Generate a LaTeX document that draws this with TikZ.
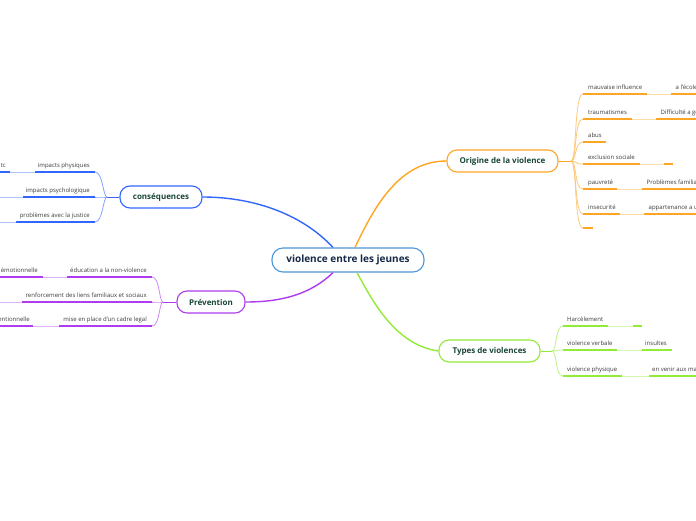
\documentclass[tikz,border=0pt]{standalone}
\usepackage{fontspec}
\setmainfont{Open Sans}
\usepackage{xcolor}
\usetikzlibrary{positioning}
\definecolor{rootblue}{RGB}{77,150,215}
\definecolor{inkblue}{RGB}{22,40,70}
\definecolor{inkgreen}{RGB}{25,70,55}
\definecolor{leafgray}{RGB}{60,60,60}
\definecolor{origorange}{RGB}{255,165,36}
\definecolor{consblue}{RGB}{51,102,255}
\definecolor{prevpurple}{RGB}{175,60,240}
\definecolor{typesgreen}{RGB}{145,235,55}
\tikzset{
  rootbox/.style={draw=rootblue, line width=1.1pt, fill=white, rounded corners=11pt,
    minimum height=24pt, minimum width=152pt, font=\fontsize{10}{12}\selectfont\bfseries, text=inkblue},
  branchbox/.style={draw=#1, line width=1.1pt, fill=white, rounded corners=10pt,
    minimum height=22pt, inner xsep=12pt, font=\fontsize{8}{9}\selectfont\bfseries, text=inkgreen},
  leaf/.style={inner sep=0pt, font=\fontsize{6}{7}\selectfont, text=leafgray},
  subline/.style={draw=#1, line width=2pt},
  linkline/.style={draw=#1!40, line width=0.9pt},
  fanline/.style={draw=#1!60, line width=0.8pt},
  stemline/.style={draw=#1, line width=1pt},
  mainline/.style={draw=#1, line width=1.4pt},
}
\begin{document}
\begin{tikzpicture}[x=1pt, y=-1pt]
  \clip (0,0) rectangle (696,520);
  \fill[white] (0,0) rectangle (696,520);

  %% Central topic and main branches
  \node[rootbox] (root) at (348,260) {violence entre les jeunes};
  \node[branchbox=origorange, minimum width=111pt] (origine) at (502.5,161) {Origine de la violence};
  \node[branchbox=typesgreen, minimum width=101pt] (typesv) at (489.5,351) {Types de violences};
  \node[branchbox=consblue, minimum width=82pt] (conseq) at (161,197) {conséquences};
  \node[branchbox=prevpurple, minimum width=68pt] (preven) at (211,302) {Prévention};

  \draw[mainline=consblue] ([xshift=-15pt]root.north) .. controls (300,212) and (250,197) .. (conseq.east);
  \draw[mainline=origorange] ([xshift=7pt]root.north) .. controls (375,205) and (400,161) .. (origine.west);
  \draw[mainline=typesgreen] ([xshift=9pt]root.south) .. controls (372,300) and (395,345) .. (typesv.west);
  \draw[mainline=prevpurple] ([xshift=-15pt]root.south) .. controls (310,295) and (280,302) .. (preven.east);

  %% Origine de la violence
  \coordinate (oj) at (571,161);
  \draw[stemline=origorange] (origine.east) -- (oj);
  \foreach \n/\y/\e/\t in {1/94/647/mauvaise influence, 2/119/632/traumatismes, 3/142/606/abus,
                           4/164/640/exclusion sociale, 5/189/617/pauvreté, 6/214/620/insecurité, 7/228/593/{}}{
    \coordinate (o\n) at (583,\y);
    \draw[fanline=origorange] (oj) .. controls +(6,0) and +(-9,0) .. (o\n);
    \draw[subline=origorange] (o\n) -- (\e,\y);
    \node[leaf, anchor=base west] (ot\n) at (588,\y-4.5) {\t};
  }
  \foreach \n/\y/\a/\b/\c/\t in {1/94/647/671/700/a l'école, 2/119/632/656/700/Difficulté a ge,
                                 4/164/640/664/673/{}, 5/189/617/642/700/Problèmes familia,
                                 6/214/620/644/700/appartenance a u}{
    \draw[linkline=origorange] (\a,\y) -- (\b,\y);
    \draw[subline=origorange] (\b,\y) -- (\c,\y);
    \node[leaf, anchor=base west] (oo\n) at (\b+4.5,\y-4.5) {\t};
  }

  %% Types de violences
  \coordinate (tj) at (552,351);
  \draw[stemline=typesgreen] (typesv.east) -- (tj);
  \foreach \n/\y/\e/\t in {1/326/608/Harcèlement, 2/350/617/violence verbale, 3/376/622/violence physique}{
    \coordinate (t\n) at (563,\y);
    \draw[fanline=typesgreen] (tj) .. controls +(5,0) and +(-8,0) .. (t\n);
    \draw[subline=typesgreen] (t\n) -- (\e,\y);
    \node[leaf, anchor=base west] (tt\n) at (567,\y-4.5) {\t};
  }
  \foreach \n/\y/\a/\b/\c/\t in {1/326/608/633/642/{}, 2/350/617/642/672/insultes,
                                 3/376/622/649/700/en venir aux mai}{
    \draw[linkline=typesgreen] (\a,\y) -- (\b,\y);
    \draw[subline=typesgreen] (\b,\y) -- (\c,\y);
    \node[leaf, anchor=base west] (tu\n) at (\b+3,\y-4.5) {\t};
  }

  %% conséquences
  \coordinate (cj) at (107,197);
  \draw[stemline=consblue] (conseq.west) -- (cj);
  \foreach \n/\y/\e/\t in {1/172/35/impacts physiques, 2/197/23/impacts psychologique,
                           3/222/16/problèmes avec la justice}{
    \coordinate (c\n) at (95,\y);
    \draw[fanline=consblue] (cj) .. controls +(-4,0) and +(8,0) .. (c\n);
    \draw[subline=consblue] (c\n) -- (\e,\y);
    \node[leaf, anchor=base east] (ct\n) at (90,\y-4.5) {\t};
    \draw[linkline=consblue] (\e,\y) -- (-5,\y);
  }
  \draw[subline=consblue] (10,172) -- (-5,172);
  \node[leaf, anchor=base east] (cc1) at (6,172-4.5) {tc};

  %% Prévention
  \coordinate (pj) at (163,302);
  \draw[stemline=prevpurple] (preven.west) -- (pj);
  \foreach \n/\y/\e/\t in {1/277/67/éducation a la non-violence, 2/302/22/renforcement des liens familiaux et sociaux,
                           3/326/59/mise en place d'un cadre legal}{
    \coordinate (p\n) at (152,\y);
    \draw[fanline=prevpurple] (pj) .. controls +(-4,0) and +(8,0) .. (p\n);
    \draw[subline=prevpurple] (p\n) -- (\e,\y);
    \node[leaf, anchor=base east] (pt\n) at (147,\y-4.5) {\t};
    \draw[linkline=prevpurple] (\e,\y) -- (-5,\y);
  }
  \draw[subline=prevpurple] (43,277) -- (-5,277);
  \node[leaf, anchor=base east] (pp1) at (38,277-4.5) {émotionnelle};
  \draw[subline=prevpurple] (33,326) -- (-5,326);
  \node[leaf, anchor=base east] (pp3) at (30,326-4.5) {entionnelle};
\end{tikzpicture}
\end{document}
